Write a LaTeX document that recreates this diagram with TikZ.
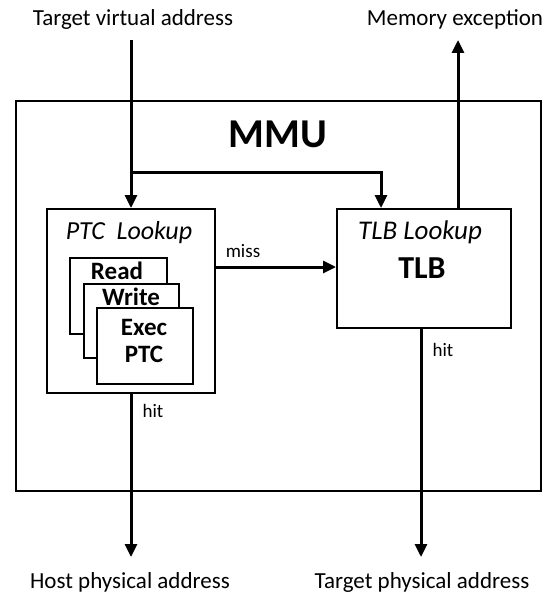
\documentclass[tikz,border=0pt]{standalone}
\usepackage{fontspec}
\setmainfont{Carlito}
\usetikzlibrary{arrows.meta}
\begin{document}
\begin{tikzpicture}[x=1pt,y=-1pt,
  box/.style={draw,line width=2pt,fill=white},
  flow/.style={line width=3pt,-{Triangle[length=13pt,width=12pt]}},
  lbl/.style={font=\fontsize{23}{25}\selectfont},
  small/.style={font=\fontsize{19}{21}\selectfont},
  stack/.style={font=\bfseries\fontsize{25}{27}\selectfont}]
\useasboundingbox (0,0) rectangle (545,596);
% outer MMU frame
\draw[line width=2pt] (16,101) rectangle (541,491);
\node[font=\bfseries\fontsize{41}{43}\selectfont] (mmu) at (278,134) {MMU};
% PTC lookup block with its three stacked caches
\node[box,minimum width=168pt,minimum height=184pt,anchor=north west] (ptc) at (46,208) {};
\node[font=\itshape\fontsize{26}{28}\selectfont] (ptct) at (129,233) {PTC\ \ Lookup};
\node[box,minimum width=97pt,minimum height=76pt,anchor=north west] (rd) at (69,257) {};
\node[stack] (rdt) at (117,271) {Read};
\node[box,minimum width=95pt,minimum height=74pt,anchor=north west] (wr) at (83,283) {};
\node[stack] (wrt) at (131,297) {Write};
\node[box,minimum width=96pt,minimum height=76pt,anchor=north west] (ex) at (96,307) {};
\node[stack,align=center] (ext) at (144,341) {Exec\\PTC};
% TLB lookup block
\node[box,minimum width=174pt,minimum height=119pt,anchor=north west] (tlb) at (336,208) {};
\node[font=\itshape\fontsize{27}{29}\selectfont] (tlbt) at (420,232) {TLB Lookup};
\node[font=\bfseries\fontsize{32}{34}\selectfont] (tlbb) at (422,268) {TLB};
% outside labels
\node[lbl] (tva) at (133,19) {Target virtual address};
\node[lbl] (mex) at (455,19) {Memory exception};
\node[lbl] (hpa) at (130,582) {Host physical address};
\node[lbl] (tpa) at (422,582) {Target physical address};
% connector end points
\coordinate (vin) at (131,40);
\coordinate (split) at (131,172);
\coordinate (turn) at (381,172);
\coordinate (mexend) at (458,40);
\coordinate (hpaend) at (131,557);
\coordinate (tpaend) at (421,557);
% connectors
\draw[flow] (vin) -- (ptc.north -| vin);
\draw[flow] (split) -- (turn) -- (tlb.north -| turn);
\draw[flow] (tlb.north -| mexend) -- (mexend);
\draw[flow] (ptc.east |- 0,267) -- (tlb.west |- 0,267);
\node[small] (miss) at (243,251) {miss};
\draw[flow] (ptc.south -| hpaend) -- (hpaend);
\node[small] (hit1) at (153,411) {hit};
\draw[flow] (tlb.south -| tpaend) -- (tpaend);
\node[small] (hit2) at (443,350) {hit};
\end{tikzpicture}
\end{document}
